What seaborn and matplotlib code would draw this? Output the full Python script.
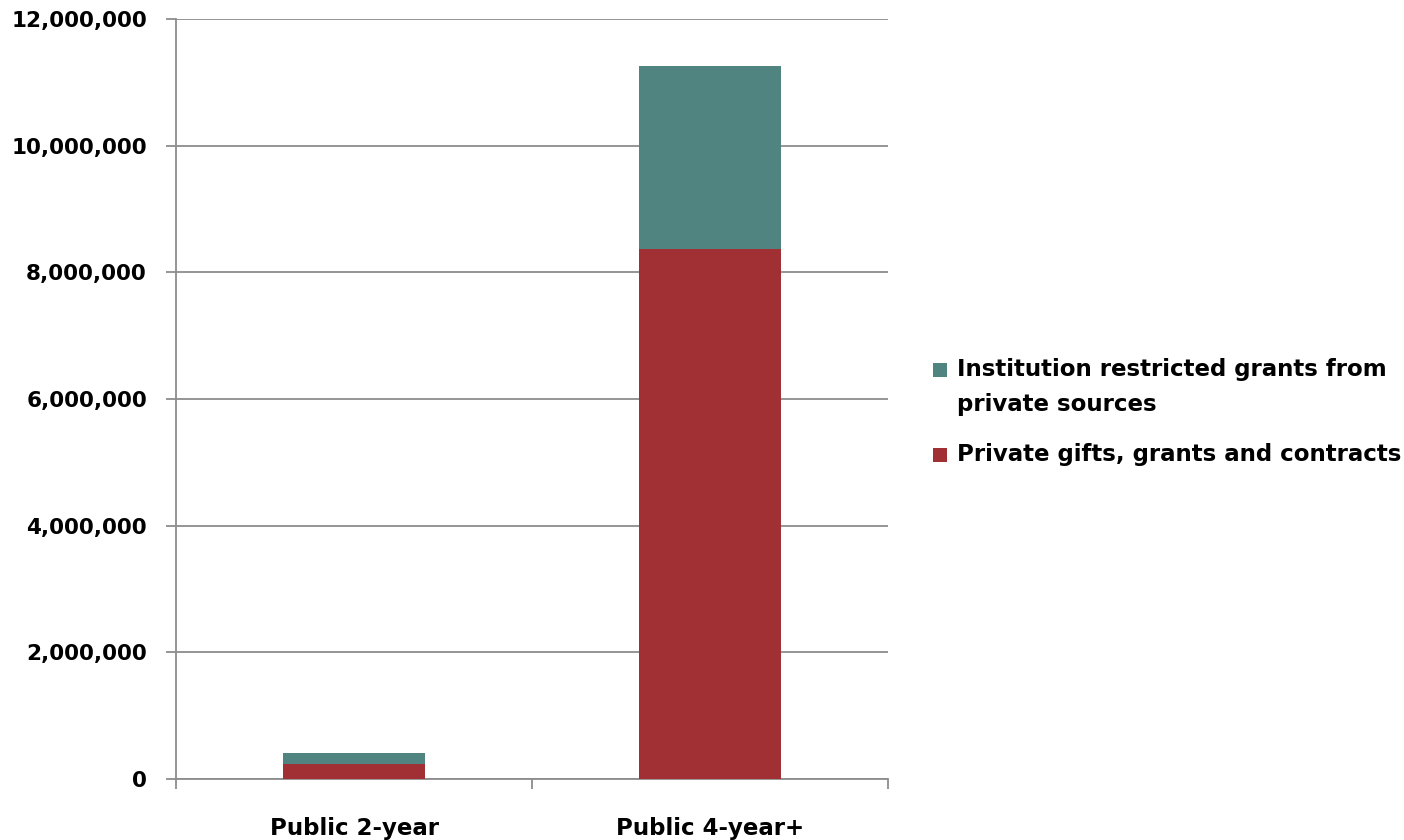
import matplotlib
matplotlib.use("Agg")
import matplotlib.pyplot as plt
import seaborn as sns
import pandas as pd
from matplotlib.patches import Rectangle
from matplotlib.ticker import FuncFormatter, FixedLocator

categories = ["Public 2-year", "Public 4-year+"]
private_gifts = [237000, 8370000]
restricted_grants = [168000, 2890000]

label_gifts = "Private gifts, grants and contracts"
label_restricted = "Institution restricted grants from\nprivate sources"

TEAL = "#4F8480"
RED = "#A03033"
GRID = "#8C8C8C"
FS = 16.5

df = pd.DataFrame({
    "category": categories,
    "gifts": private_gifts,
    "restricted": restricted_grants,
})
df["total"] = df["gifts"] + df["restricted"]

sns.set_theme(style="white")
plt.rcParams["font.family"] = ["DejaVu Sans"]
plt.rcParams["font.weight"] = "bold"
plt.rcParams["text.color"] = "black"
plt.rcParams["xtick.color"] = "black"
plt.rcParams["ytick.color"] = "black"

fig = plt.figure(figsize=(14.04, 8.4), dpi=100)
ax = fig.add_axes([0.1254, 0.0726, 0.507, 0.905])

# stacked: total (teal) first, then the red part over it
sns.barplot(data=df, x="category", y="total", color=TEAL, width=0.4,
            saturation=1, linewidth=0, ax=ax, zorder=3)
sns.barplot(data=df, x="category", y="gifts", color=RED, width=0.4,
            saturation=1, linewidth=0, ax=ax, zorder=4)

ax.set_xlim(-0.5, 1.5)
ax.set_ylim(0, 12000000)
ax.set_yticks(range(0, 12000001, 2000000))
ax.yaxis.set_major_formatter(FuncFormatter(lambda v, p: f"{int(v):,}"))
ax.yaxis.grid(True, color=GRID, linewidth=1.3, zorder=0)
ax.set_axisbelow(True)

# category boundaries as tick marks, labels centred between them
ax.xaxis.set_major_locator(FixedLocator([-0.5, 0.5, 1.5]))
ax.xaxis.set_minor_locator(FixedLocator([0, 1]))
ax.set_xticklabels(["", "", ""])
ax.set_xticklabels(categories, minor=True)
ax.tick_params(axis="x", which="major", direction="out", length=7,
               width=1.3, color=GRID, bottom=True)
ax.tick_params(axis="x", which="minor", length=0, pad=27, labelsize=FS,
               labelcolor="black")
ax.tick_params(axis="y", direction="out", length=7, width=1.3, color=GRID,
               left=True, labelsize=15.5, pad=14, labelcolor="black")
for lbl in ax.get_xticklabels(minor=True) + ax.get_yticklabels():
    lbl.set_fontweight("bold")

ax.set_xlabel("")
ax.set_ylabel("")
for side in ["top", "right"]:
    ax.spines[side].set_visible(False)
for side in ["left", "bottom"]:
    ax.spines[side].set_color(GRID)
    ax.spines[side].set_linewidth(1.3)

# legend drawn by hand so the swatch sits on the first text line
W, H = 1404, 840
for color, label, y_px in [(TEAL, label_restricted, 370),
                           (RED, label_gifts, 455)]:
    fig.patches.append(Rectangle((933 / W, 1 - (y_px + 7) / H), 14 / W, 14 / H,
                                 transform=fig.transFigure, facecolor=color,
                                 edgecolor="none"))
    fig.text(957 / W, 1 - (y_px - 12) / H, label, ha="left", va="top",
             fontsize=FS, fontweight="bold", color="black", linespacing=1.65)

fig.savefig("out.png", dpi=100)
